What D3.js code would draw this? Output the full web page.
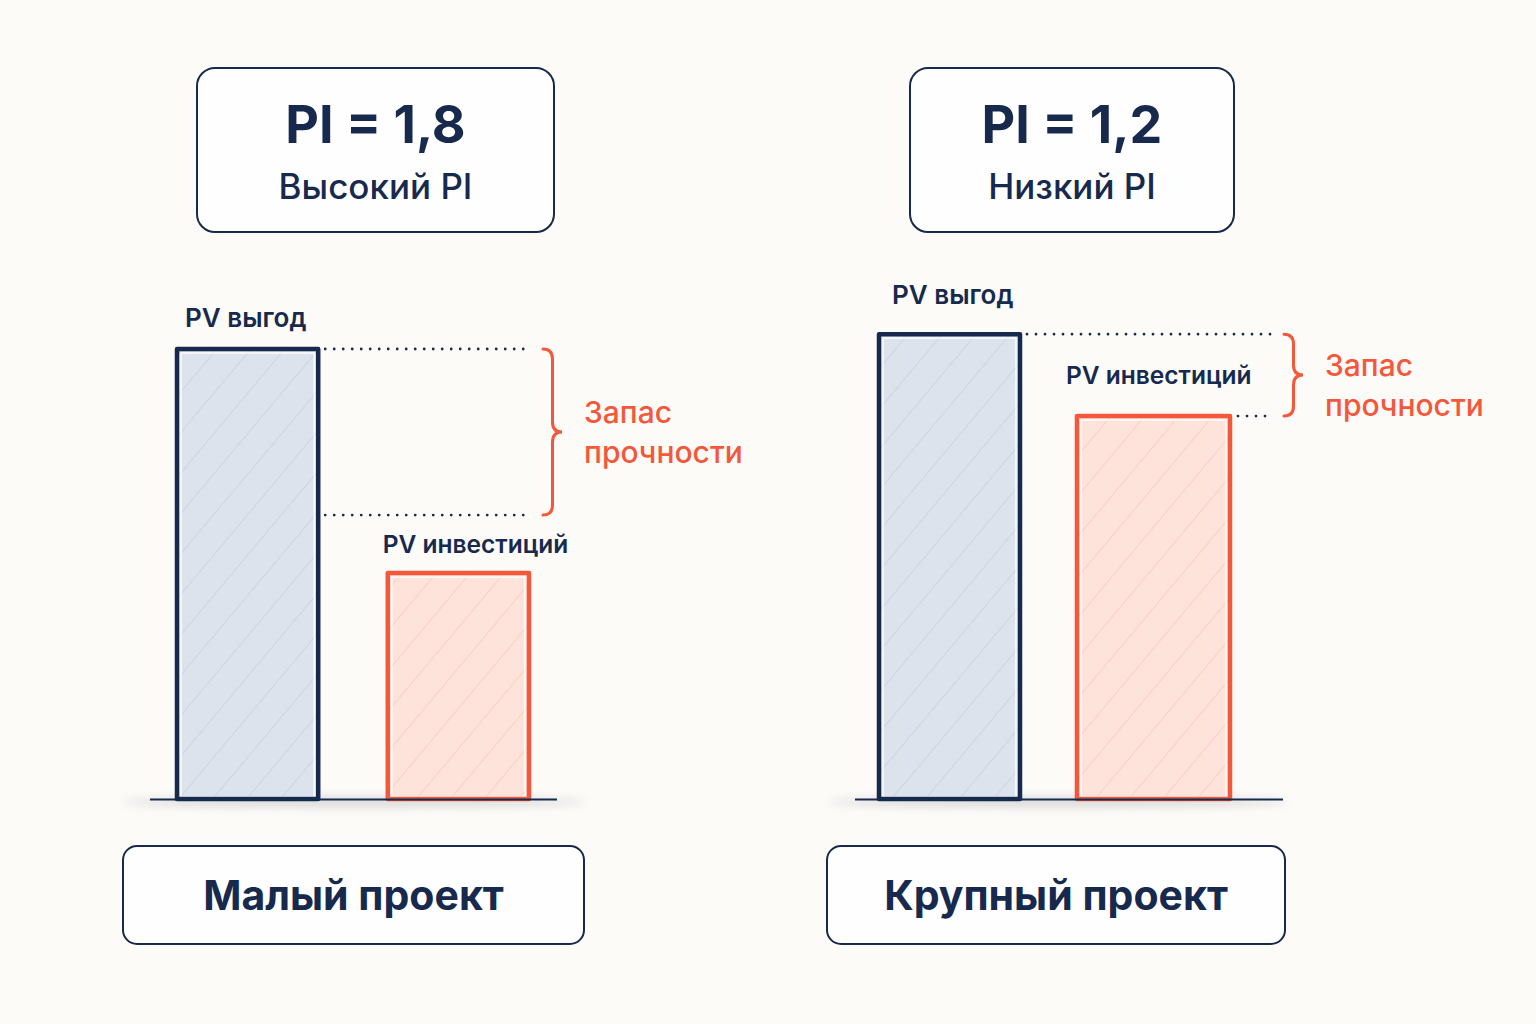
<!DOCTYPE html>
<html><head><meta charset="utf-8">
<script src="https://cdn.jsdelivr.net/npm/d3@7"></script>
<style>html,body{margin:0;padding:0;background:#fcfbf8;}svg{display:block;font-family:Inter,"Noto Sans",sans-serif;}</style>
</head><body>
<svg id="c" width="1536" height="1024"></svg>
<script>
// ---- data ----
const projects = ["Малый проект", "Крупный проект"];
const piValues = ["PI = 1,8", "PI = 1,2"];
const piLabels = ["Высокий PI", "Низкий PI"];
const categories = ["PV выгод", "PV инвестиций"];
const pvBenefits = [100, 103.3];
const pvInvestments = [50.2, 85.1];
const marginLow = [63.1, 85.1];
const marginLabel = ["Запас", "прочности"];

// ---- style ----
const NAVY = "#172a4d", RED = "#f4573a";
const svg = d3.select("#c");
const defs = svg.append("defs");
function hatch(id, bg, line) {
  const p = defs.append("pattern").attr("id", id).attr("patternUnits", "userSpaceOnUse")
    .attr("width", 26).attr("height", 26).attr("patternTransform", "rotate(40)");
  p.append("rect").attr("width", 26).attr("height", 26).attr("fill", bg);
  p.append("line").attr("x1", 0).attr("y1", 0).attr("x2", 0).attr("y2", 26).attr("stroke", line).attr("stroke-width", 2);
}
hatch("hb", "#dce3ed", "#cbd4e1");
hatch("hr", "#fde3da", "#fbcfc1");
defs.append("filter").attr("id", "blur").attr("x", "-20%").attr("y", "-200%").attr("width", "140%").attr("height", "500%")
  .append("feGaussianBlur").attr("stdDeviation", 5);

const y = d3.scaleLinear().domain([0, 100]).range([799, 349]);
const labelSize = [26, 24.5];

const layout = [
  { bars: [177, 529], pad: 0.33, widths: null, axis: [150, 557], shadow: [122, 586], top: [197, 68, 357, 164], bottom: [123, 846, 461, 98],
    braceX: 543, dotEnd: 530, labelDx: [8, -5], labelDy: [-22, -20], margin: { x: 584, y: 423 } },
  { bars: [879, 1230], pad: 0.227, widths: [141, null], axis: [855, 1283], shadow: [828, 1288], top: [910, 68, 324, 164], bottom: [827, 846, 458, 98],
    braceX: 1284, dotEnd: 1272, labelDx: [13, -11], labelDy: [-30, -32], margin: { x: 1325, y: 376 } }
];

projects.forEach((proj, i) => {
  const L = layout[i];
  const g = svg.append("g");
  const x = d3.scaleBand().domain(categories).range(L.bars).paddingInner(L.pad);
  const vals = [pvBenefits[i], pvInvestments[i]];
  const bwOf = k => (L.widths && L.widths[k]) ? L.widths[k] : x.bandwidth();

  // top box
  g.append("rect").attr("x", L.top[0]).attr("y", L.top[1]).attr("width", L.top[2]).attr("height", L.top[3])
    .attr("rx", 18).attr("fill", "#fefefe").attr("stroke", NAVY).attr("stroke-width", 2);
  const cx = L.top[0] + L.top[2] / 2;
  g.append("text").attr("x", cx).attr("y", 143).attr("text-anchor", "middle").attr("fill", NAVY)
    .attr("font-size", 52).attr("font-weight", 700).text(piValues[i]);
  g.append("text").attr("x", cx).attr("y", 199).attr("text-anchor", "middle").attr("fill", NAVY)
    .attr("font-size", 35).attr("font-weight", 500).text(piLabels[i]);

  // shadow
  g.append("ellipse").attr("cx", (L.shadow[0] + L.shadow[1]) / 2).attr("cy", 802)
    .attr("rx", (L.shadow[1] - L.shadow[0]) / 2).attr("ry", 5).attr("fill", "#d8d8d8").attr("filter", "url(#blur)");

  // bars
  categories.forEach((c, k) => {
    const bx = x(c), bw = bwOf(k), by = y(vals[k]), bh = y(0) - y(vals[k]);
    const col = k === 0 ? NAVY : RED;
    g.append("rect").attr("x", bx).attr("y", by).attr("width", bw).attr("height", bh)
      .attr("fill", k === 0 ? "url(#hb)" : "url(#hr)");
    g.append("rect").attr("x", bx + 4).attr("y", by + 4).attr("width", bw - 8).attr("height", bh - 6)
      .attr("fill", "none").attr("stroke", "#ffffff").attr("stroke-width", 1.5).attr("opacity", 0.9);
    g.append("rect").attr("x", bx).attr("y", by).attr("width", bw).attr("height", bh)
      .attr("fill", "none").attr("stroke", col).attr("stroke-width", 4.5).attr("stroke-linejoin", "round");
    g.append("text").attr("x", bx + L.labelDx[k]).attr("y", by + L.labelDy[k]).attr("fill", NAVY)
      .attr("font-size", labelSize[k]).attr("font-weight", 600).text(c);
  });

  g.append("line").attr("x1", L.axis[0]).attr("x2", L.axis[1]).attr("y1", y(0) + 0.5).attr("y2", y(0) + 0.5)
    .attr("stroke", NAVY).attr("stroke-width", 2);

  // dotted guides
  const yTop = y(pvBenefits[i]), yLow = y(marginLow[i]);
  const benefitRight = x(categories[0]) + bwOf(0) + 4;
  const lowStart = i === 0 ? benefitRight : x(categories[1]) + bwOf(1) + 5;
  [[benefitRight, yTop], [lowStart, yLow]].forEach(([x0, yy]) => {
    g.append("line").attr("x1", x0 + 3).attr("x2", L.dotEnd).attr("y1", yy).attr("y2", yy)
      .attr("stroke", NAVY).attr("stroke-width", 2.8).attr("stroke-linecap", "round").attr("stroke-dasharray", "0 9");
  });

  // brace
  const b0 = L.braceX, w = 19, ym = (yTop + yLow) / 2, r = 10;
  const p = d3.path();
  p.moveTo(b0, yTop);
  p.quadraticCurveTo(b0 + w / 2, yTop, b0 + w / 2, yTop + r);
  p.lineTo(b0 + w / 2, ym - r);
  p.quadraticCurveTo(b0 + w / 2, ym, b0 + w, ym);
  p.quadraticCurveTo(b0 + w / 2, ym, b0 + w / 2, ym + r);
  p.lineTo(b0 + w / 2, yLow - r);
  p.quadraticCurveTo(b0 + w / 2, yLow, b0, yLow);
  g.append("path").attr("d", p.toString()).attr("fill", "none").attr("stroke", RED).attr("stroke-width", 3).attr("stroke-linecap", "round");

  marginLabel.forEach((t, k) => {
    g.append("text").attr("x", L.margin.x).attr("y", L.margin.y + k * 40).attr("fill", RED)
      .attr("font-size", 30).attr("font-weight", 500).text(t);
  });

  // bottom box
  g.append("rect").attr("x", L.bottom[0]).attr("y", L.bottom[1]).attr("width", L.bottom[2]).attr("height", L.bottom[3])
    .attr("rx", 14).attr("fill", "#fefefe").attr("stroke", NAVY).attr("stroke-width", 2);
  g.append("text").attr("x", L.bottom[0] + L.bottom[2] / 2).attr("y", 910).attr("text-anchor", "middle").attr("fill", NAVY)
    .attr("font-size", 41).attr("font-weight", 700).text(proj);
});
</script>
</body></html>
